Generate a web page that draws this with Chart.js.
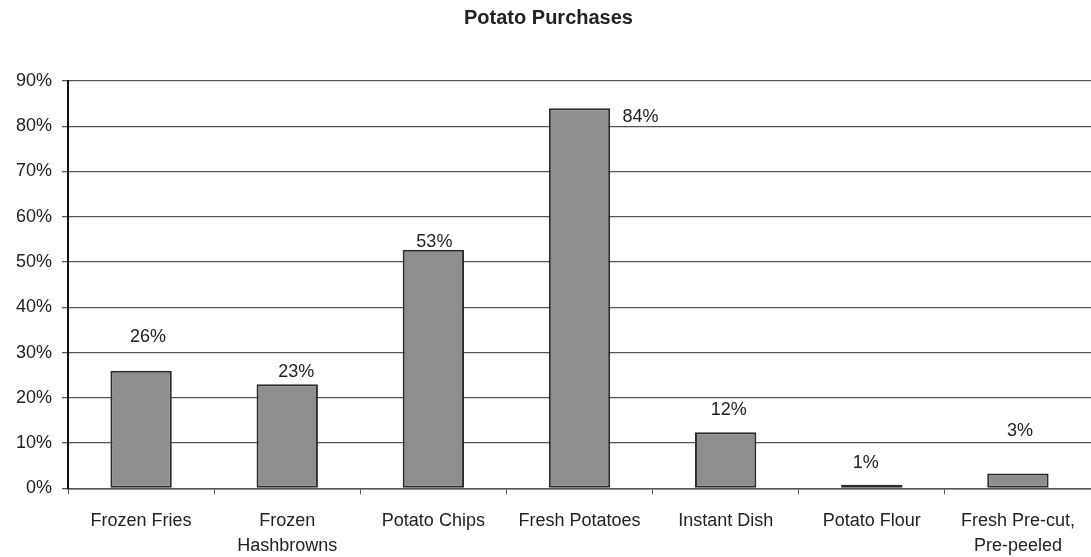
<!DOCTYPE html>
<html>
<head>
<meta charset="utf-8">
<script src="https://cdn.jsdelivr.net/npm/chart.js@4"></script>
<style>
  html, body { margin: 0; padding: 0; background: #fff; }
  #wrap { width: 1091px; height: 557px; }
</style>
</head>
<body>
<div id="wrap"><canvas id="myChart" width="1091" height="557"></canvas></div>
<script>
var categories = ["Frozen Fries", ["Frozen", "Hashbrowns"], "Potato Chips", "Fresh Potatoes",
    "Instant Dish", "Potato Flour", ["Fresh Pre-cut,", "Pre-peeled"]];
var purchases = [26, 23, 52.7, 84, 12.4, 0.8, 3.3];
var valueLabels = ["26%", "23%", "53%", "84%", "12%", "1%", "3%"];
var yTicks = [0, 10, 20, 30, 40, 50, 60, 70, 80, 90];

// where each value label sits relative to its bar top (px)
var labelOffsets = [[7, -34], [9, -12], [1, -8], [61, 9], [3, -22], [-6, -22], [2, -42]];

var FONT = '"Liberation Sans", Arial, sans-serif';

var labelPlugin = {
    id: 'valueLabels',
    afterDatasetsDraw: function (chart) {
        var c = chart.ctx;
        var meta = chart.getDatasetMeta(0);
        c.save();
        c.font = '18px ' + FONT;
        c.fillStyle = '#222';
        c.textAlign = 'center';
        c.textBaseline = 'middle';
        meta.data.forEach(function (bar, i) {
            c.fillText(valueLabels[i], bar.x + labelOffsets[i][0], bar.y + labelOffsets[i][1]);
        });
        c.restore();
    }
};

var ctx = document.getElementById('myChart').getContext('2d');

var myChart = new Chart(ctx, {
    type: 'bar',
    data: {
        labels: categories,
        datasets: [{
            label: 'Purchases',
            data: purchases,
            backgroundColor: '#8e8e8e',
            borderColor: '#2b2b2b',
            borderWidth: 2,
            borderSkipped: false,
            barPercentage: 0.84,
            categoryPercentage: 0.5
        }]
    },
    options: {
        responsive: false,
        animation: false,
        layout: {
            padding: { top: 0, right: 0, left: 6, bottom: -15 }
        },
        plugins: {
            legend: { display: false },
            tooltip: { enabled: false },
            title: {
                display: true,
                text: 'Potato Purchases',
                color: '#222',
                font: { family: FONT, size: 20, weight: 'bold' },
                padding: { top: 6, bottom: 51 }
            }
        },
        scales: {
            x: {
                grid: {
                    display: true,
                    drawOnChartArea: false,
                    offset: true,
                    color: '#555',
                    tickLength: 6,
                    tickColor: '#555'
                },
                border: { color: '#555', width: 1.5 },
                ticks: {
                    color: '#222',
                    maxRotation: 0,
                    autoSkip: false,
                    padding: 14,
                    font: { family: FONT, size: 18, lineHeight: 1.38 }
                }
            },
            y: {
                min: 0,
                max: 90,
                afterBuildTicks: function (axis) {
                    axis.ticks = yTicks.map(function (v) { return { value: v }; });
                },
                grid: {
                    color: '#555',
                    lineWidth: 1.3,
                    tickLength: 6,
                    tickColor: '#555'
                },
                border: { color: '#111', width: 2 },
                ticks: {
                    color: '#222',
                    padding: 10,
                    font: { family: FONT, size: 18 },
                    callback: function (v) { return v + '%'; }
                }
            }
        }
    },
    plugins: [labelPlugin]
});
</script>
</body>
</html>
